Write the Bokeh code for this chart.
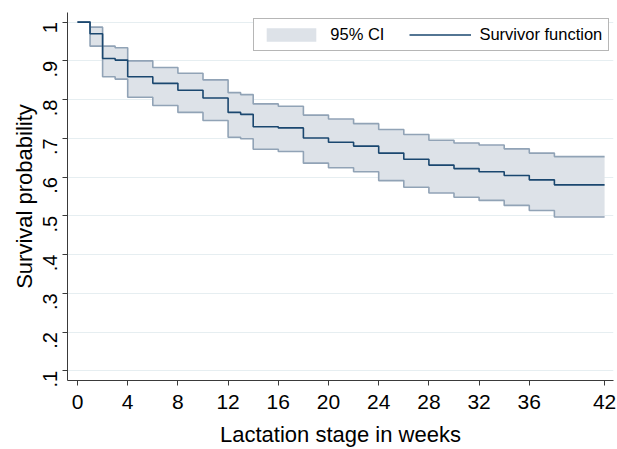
import math
from bokeh.plotting import figure
from bokeh.models import Range1d, FixedTicker, Legend, LegendItem, ColumnDataSource
from bokeh.embed import file_html
from bokeh.resources import INLINE

# Kaplan-Meier step data (weeks at which each step starts; last point closes the final step)
weeks = [0, 1, 2, 3, 4, 6, 8, 10, 12, 13, 14, 16, 18, 20, 22, 24, 26, 28, 30, 32, 34, 36, 38, 42]
survivor = [1.0, 0.970, 0.906, 0.902, 0.859, 0.842, 0.824, 0.804, 0.767, 0.762, 0.730, 0.727,
            0.701, 0.690, 0.680, 0.662, 0.646, 0.631, 0.622, 0.614, 0.604, 0.593, 0.580, 0.580]
ci_upper = [1.0, 0.987, 0.938, 0.934, 0.900, 0.883, 0.868, 0.851, 0.818, 0.813, 0.789, 0.783,
            0.760, 0.750, 0.738, 0.723, 0.710, 0.695, 0.688, 0.683, 0.673, 0.662, 0.653, 0.653]
ci_lower = [1.0, 0.938, 0.859, 0.853, 0.806, 0.785, 0.767, 0.746, 0.703, 0.699, 0.672, 0.666,
            0.636, 0.624, 0.614, 0.591, 0.574, 0.559, 0.548, 0.540, 0.527, 0.514, 0.497, 0.497]

x_ticks = [0, 4, 8, 12, 16, 20, 24, 28, 32, 36, 42]
y_ticks = [0.1, 0.2, 0.3, 0.4, 0.5, 0.6, 0.7, 0.8, 0.9, 1.0]
y_tick_labels = [".1", ".2", ".3", ".4", ".5", ".6", ".7", ".8", ".9", "1"]

x_title = "Lactation stage in weeks"
y_title = "Survival probability"
ci_label = "95% CI"
surv_label = "Survivor function"

FONT = "Liberation Sans"
NAVY = "#1a476f"
BAND_FILL = "#dde2e8"
BAND_LINE = "#91a3b6"
AXIS = "#3a3a3a"

p = figure(width=617, height=449, output_backend="svg", toolbar_location=None,
           x_range=Range1d(-0.797, 42.71), y_range=Range1d(0.0752, 1.0248),
           min_border_left=67, min_border_right=4, min_border_top=12, min_border_bottom=65)
p.outline_line_color = None
p.background_fill_color = "white"
p.border_fill_color = "white"

src = ColumnDataSource(dict(t=weeks, s=survivor, u=ci_upper, l=ci_lower))

band = p.varea_step(x="t", y1="l", y2="u", step_mode="after", source=src,
                    fill_color=BAND_FILL, fill_alpha=1.0)
p.step("t", "u", mode="after", source=src, line_color=BAND_LINE, line_width=1.6)
p.step("t", "l", mode="after", source=src, line_color=BAND_LINE, line_width=1.6)
surv = p.step("t", "s", mode="after", source=src, line_color=NAVY, line_width=1.6)

# axes
p.xaxis.ticker = FixedTicker(ticks=x_ticks)
p.yaxis.ticker = FixedTicker(ticks=y_ticks)
p.yaxis.major_label_overrides = {t: lab for t, lab in zip(y_ticks, y_tick_labels)}
p.yaxis.major_label_orientation = math.pi / 2

for ax in (p.xaxis[0], p.yaxis[0]):
    ax.axis_line_color = AXIS
    ax.axis_line_width = 1
    ax.major_tick_line_color = AXIS
    ax.major_tick_out = 5
    ax.major_tick_in = 0
    ax.minor_tick_line_color = None
    ax.major_label_text_font = FONT
    ax.major_label_text_color = "black"
    ax.axis_label_text_font = FONT
    ax.axis_label_text_font_size = "22px"
    ax.axis_label_text_font_style = "normal"
    ax.axis_label_text_color = "black"

p.xaxis.major_label_text_font_size = "21px"
p.yaxis.major_label_text_font_size = "20px"
p.xaxis.axis_label = x_title
p.yaxis.axis_label = y_title
p.xaxis.major_label_standoff = 9
p.xaxis.axis_label_standoff = 10
p.yaxis.major_label_standoff = 12
p.yaxis.axis_label_standoff = -3

p.xgrid.grid_line_color = None
p.ygrid.ticker = FixedTicker(ticks=y_ticks)
p.ygrid.grid_line_color = "#e6eef1"
p.ygrid.grid_line_width = 1

legend = Legend(items=[LegendItem(label=ci_label, renderers=[band]),
                       LegendItem(label=surv_label, renderers=[surv])],
                location=(186.3, 329), orientation="horizontal",
                glyph_width=62, glyph_height=17, label_standoff=8, spacing=25,
                padding=6, margin=0, label_height=15,
                label_text_font=FONT, label_text_font_size="16.5px", label_text_color="black",
                border_line_color="#6e6e6e", border_line_width=1,
                background_fill_color="white", background_fill_alpha=1.0)
p.add_layout(legend)

open("out.html", "w").write(file_html(p, INLINE))
